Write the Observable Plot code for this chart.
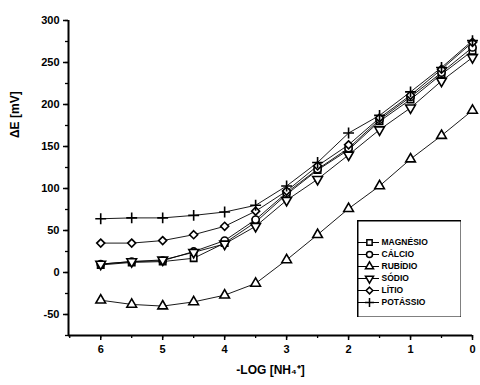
<!DOCTYPE html>
<html>
<head>
<meta charset="utf-8">
<script src="https://cdn.jsdelivr.net/npm/d3@7"></script>
<script src="https://cdn.jsdelivr.net/npm/@observablehq/plot@0.6"></script>
<style>
  html, body { margin: 0; padding: 0; background: #fff; }
  #wrap { position: relative; width: 480px; height: 385px; }
  #legend { position: absolute; left: 357px; top: 220px; }
  svg { font-family: "Liberation Sans", Arial, sans-serif; }
</style>
</head>
<body>
<div id="wrap"><div id="chart"></div><div id="legend"></div></div>
<script>
// ---- data ----
const xs = [6, 5.5, 5, 4.5, 4, 3.5, 3, 2.5, 2, 1.5, 1, 0.5, 0];
const names = ["MAGNÉSIO", "CÁLCIO", "RUBÍDIO", "SÓDIO", "LÍTIO", "POTÁSSIO"];
const magnesio = [9, 12, 13, 17, 35, 60, 93, 122, 146, 180, 206, 236, 264];
const calcio   = [10, 13, 14, 25, 38, 63, 95, 123, 148, 182, 209, 238, 268];
const rubidio  = [-33, -38, -40, -35, -27, -13, 15, 45, 76, 103, 135, 163, 193];
const sodio    = [10, 13, 15, 24, 34, 55, 86, 111, 140, 170, 196, 228, 256];
const litio    = [35, 35, 38, 45, 55, 73, 97, 127, 152, 184, 211, 242, 274];
const potassio = [64, 65, 65, 68, 72, 80, 103, 131, 166, 187, 215, 244, 276];
const yTicks = [-50, 0, 50, 100, 150, 200, 250, 300];
const xTicks = [6, 5, 4, 3, 2, 1, 0];

const seriesValues = [magnesio, calcio, rubidio, sodio, litio, potassio];
const data = names.flatMap((name, i) => xs.map((x, j) => ({name, x, y: seriesValues[i][j]})));

// custom downward triangle symbol
const sqrt3 = Math.sqrt(3);
const triangleDown = {
  draw(context, size) {
    const y = -Math.sqrt(size / (sqrt3 * 3));
    context.moveTo(0, -y * 2);
    context.lineTo(-sqrt3 * y, y);
    context.lineTo(sqrt3 * y, y);
    context.closePath();
  }
};
const symbols = ["square", "circle", "triangle", triangleDown, "diamond2", "plus"];

const font = "Liberation Sans, Arial, sans-serif";

const chart = Plot.plot({
  width: 480,
  height: 385,
  marginLeft: 68,
  marginRight: 8,
  marginTop: 20,
  marginBottom: 50,
  style: {fontFamily: font, fontSize: "11px", fontWeight: "bold", background: "#fff", color: "#000"},
  x: {domain: [6.52, 0], label: null},
  y: {domain: [-75, 300], label: null},
  symbol: {domain: names, range: symbols, legend: false},
  marks: [
    Plot.axisY(d3.range(-75, 301, 25), {tickSize: 3, text: null, strokeWidth: 1.3}),
    Plot.axisY(yTicks, {tickSize: 5, tickPadding: 4, strokeWidth: 1.5, fontSize: 11, fontWeight: "bold", label: null, tickFormat: d => String(d)}),
    Plot.axisX(d3.range(0, 6.6, 0.5), {tickSize: 3, text: null, strokeWidth: 1.3}),
    Plot.axisX(xTicks, {tickSize: 5, tickPadding: 5, strokeWidth: 1.5, fontSize: 11, fontWeight: "bold", label: null, tickFormat: d => String(d)}),
    Plot.ruleX([6.52], {stroke: "#000", strokeWidth: 2}),
    Plot.ruleY([-75], {stroke: "#000", strokeWidth: 2}),
    Plot.line(data, {x: "x", y: "y", z: "name", stroke: "#000", strokeWidth: 0.9}),
    Plot.dot(data, {x: "x", y: "y", symbol: "name", r: 3.6, fill: d => d.name === "POTÁSSIO" ? "none" : "#fff", stroke: "#000", strokeWidth: 1.6}),
    Plot.text(["ΔE [mV]"], {frameAnchor: "left", rotate: -90, dx: -53, dy: -40, fontSize: 12, fontWeight: "bold", fill: "#000"}),
    Plot.text(["-LOG [NH₄⁺]"], {frameAnchor: "bottom", dy: 38, fontSize: 12, fontWeight: "bold", fill: "#000"})
  ]
});
document.getElementById("chart").append(chart);

const legend = Plot.plot({
  width: 104,
  height: 97,
  margin: 0,
  style: {fontFamily: font, background: "#fff", color: "#000"},
  x: {domain: [0, 104], range: [0, 104], axis: null},
  y: {type: "point", domain: names, range: [15, 89], axis: null},
  symbol: {domain: names, range: symbols, legend: false},
  marks: [
    Plot.frame({stroke: "#000", strokeWidth: 2}),
    Plot.ruleY(names, {y: d => d, x1: 1, x2: 22, stroke: "#000", strokeWidth: 1}),
    Plot.dot(names, {x: 12, y: d => d, symbol: d => d, r: 3, fill: d => d === "POTÁSSIO" ? "none" : "#fff", stroke: "#000", strokeWidth: 1.5}),
    Plot.text(names, {x: 24, y: d => d, text: d => d, textAnchor: "start", fontSize: 8.5, fontWeight: "bold", fill: "#000"})
  ]
});
document.getElementById("legend").append(legend);
</script>
</body>
</html>
